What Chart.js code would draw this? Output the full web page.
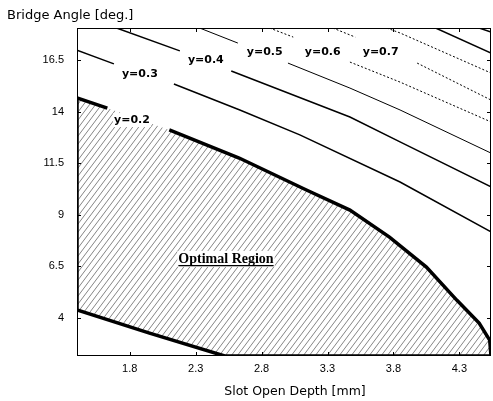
<!DOCTYPE html>
<html>
<head>
<meta charset="utf-8">
<script src="https://cdn.jsdelivr.net/npm/chart.js@4.4.1/dist/chart.umd.min.js"></script>
<style>
  html, body { margin: 0; padding: 0; background: #fff; }
  #wrap { width: 493px; height: 401px; }
</style>
</head>
<body>
<div id="wrap"><canvas id="bridgeChart"></canvas></div>
<script>
const xTicks = [1.8, 2.3, 2.8, 3.3, 3.8, 4.3];
const yTicks = [4, 6.5, 9, 11.5, 14, 16.5];

// contour y=0.2 = upper edge of the optimal region (gap where the label sits)
const c02a = [[1.40, 14.66], [1.63, 14.17]];
const c02b = [[2.10, 13.11], [2.63, 11.75], [3.14, 10.20], [3.47, 9.23], [3.77, 7.92],
              [4.05, 6.47], [4.28, 4.87], [4.45, 3.76], [4.53, 2.93], [4.54, 2.16]];
// left and lower edge of the region
const lowerEdge = [[1.40, 14.66], [1.40, 4.39], [1.95, 3.27], [2.52, 2.16], [4.54, 2.16]];

const c03a = [[1.40, 16.98], [1.68, 16.31]];
const c03b = [[2.135, 15.34], [2.635, 14.08], [3.09, 12.87], [3.85, 10.59], [4.54, 8.17]];
const c04a = [[1.70, 18.05], [2.18, 16.94]];
const c04b = [[2.57, 15.97], [3.47, 13.74], [3.85, 12.53], [4.54, 10.35]];
const c05a = [[2.33, 18.05], [2.62, 17.32]];
const c05b = [[3.00, 16.35], [3.47, 15.14], [3.85, 14.08], [4.54, 11.99]];
const c06a = [[2.86, 18.05], [3.04, 17.61]];
const c06b = [[3.47, 16.40], [3.85, 15.43], [4.54, 13.50]];
const c07a = [[3.34, 18.05], [3.51, 17.61]];
const c07b = [[3.98, 16.35], [4.54, 14.56]];
const c08 = [[3.75, 18.05], [3.85, 17.81], [4.54, 15.87]];
const c09 = [[4.12, 18.05], [4.54, 16.84]];
const c10 = [[4.45, 18.05], [4.54, 17.86]];

const contourLabels = ["y=0.2", "y=0.3", "y=0.4", "y=0.5", "y=0.6", "y=0.7"];
const labelX = [1.817, 1.877, 2.377, 2.824, 3.264, 3.703];
const labelY = [13.59, 15.82, 16.5, 16.89, 16.89, 16.89];
const regionLabel = "Optimal Region";
const regionAt = [2.53, 6.86];
const xTitle = "Slot Open Depth [mm]";
const yTitle = "Bridge Angle [deg.]";

const pts = (arr) => arr.map((p) => ({ x: p[0], y: p[1] }));

function hatch() {
  const c = document.createElement("canvas");
  const w = 6, h = 8;
  c.width = w; c.height = h;
  const g = c.getContext("2d");
  g.strokeStyle = "#858585";
  g.lineWidth = 1;
  g.beginPath();
  for (let k = -1; k <= 1; k++) {
    g.moveTo(-w + k * w, 2 * h);
    g.lineTo(2 * w + k * w, -h);
  }
  g.stroke();
  return g.createPattern(c, "repeat");
}

const sans = "'Liberation Sans', Arial, sans-serif";
const wide = "'DejaVu Sans', Verdana, sans-serif";

function line(data, width, dash) {
  return {
    data: pts(data),
    showLine: true,
    borderColor: "#000",
    borderWidth: width,
    borderDash: dash || [],
    pointRadius: 0,
    tension: 0,
    fill: false,
  };
}

const datasets = [
  line(c02a, 3.5),
  line(c02b, 3.5),
  line(lowerEdge, 3.5),
  line(c03a, 1.5),
  line(c03b, 1.5),
  line(c04a, 1.5),
  line(c04b, 1.5),
  line(c05a, 1),
  line(c05b, 1),
  line(c06a, 1, [2, 2]),
  line(c06b, 1, [2, 2]),
  line(c07a, 1, [2, 2]),
  line(c07b, 1, [2, 2]),
  line(c08, 1, [2, 2]),
  line(c09, 1.5),
  line(c10, 1.5),
  {
    data: pts(c02a.concat(c02b, lowerEdge.slice().reverse())),
    showLine: true,
    borderWidth: 0,
    borderColor: "rgba(0,0,0,0)",
    pointRadius: 0,
    fill: "shape",
    backgroundColor: hatch(),
  },
];

const frame = {
  id: "frame",
  afterDatasetsDraw(chart) {
    const { ctx, chartArea: a, scales } = chart;
    const sx = scales.x, sy = scales.y;
    ctx.save();
    ctx.strokeStyle = "#000";
    ctx.lineWidth = 1;
    ctx.strokeRect(a.left + 0.5, a.top + 0.5, a.width - 1, a.height - 1);
    ctx.beginPath();
    xTicks.forEach((v) => {
      const p = Math.round(sx.getPixelForValue(v)) + 0.5;
      ctx.moveTo(p, a.bottom); ctx.lineTo(p, a.bottom - 4);
      ctx.moveTo(p, a.top); ctx.lineTo(p, a.top + 4);
    });
    yTicks.forEach((v) => {
      const p = Math.round(sy.getPixelForValue(v)) + 0.5;
      ctx.moveTo(a.left, p); ctx.lineTo(a.left + 4, p);
      ctx.moveTo(a.right, p); ctx.lineTo(a.right - 4, p);
    });
    ctx.stroke();

    ctx.font = "bold 11px 'DejaVu Sans', sans-serif";
    ctx.textAlign = "center";
    ctx.textBaseline = "middle";
    contourLabels.forEach((t, i) => {
      const px = sx.getPixelForValue(labelX[i]);
      const py = sy.getPixelForValue(labelY[i]);
      const w = ctx.measureText(t).width;
      ctx.fillStyle = "#fff";
      ctx.fillRect(px - w / 2 - 1, py - 7, w + 2, 14);
      ctx.fillStyle = "#000";
      ctx.fillText(t, px, py);
    });

    ctx.font = "bold 14px 'Liberation Serif', serif";
    const rx = sx.getPixelForValue(regionAt[0]);
    const ry = sy.getPixelForValue(regionAt[1]);
    const rw = ctx.measureText(regionLabel).width;
    ctx.fillStyle = "#fff";
    ctx.fillRect(rx - rw / 2 - 1, ry - 8, rw + 2, 16);
    ctx.fillStyle = "#000";
    ctx.fillText(regionLabel, rx, ry);
    ctx.fillRect(rx - rw / 2, ry + 6, rw, 1.3);

    // x axis title, sits a little right of the plot centre like the original
    ctx.font = "12.5px " + wide;
    ctx.fillText(xTitle, (a.left + a.right) / 2 + 11, a.bottom + 36);
    ctx.restore();
  },
};

new Chart(document.getElementById("bridgeChart"), {
  type: "scatter",
  data: { datasets },
  options: {
    responsive: true,
    maintainAspectRatio: false,
    animation: false,
    layout: { padding: { left: 7, right: 2, top: 0, bottom: 0 } },
    plugins: {
      legend: { display: false },
      tooltip: { enabled: false },
      title: {
        display: true,
        text: yTitle,
        align: "start",
        color: "#000",
        font: { family: wide, size: 13, weight: "normal" },
        padding: { top: 8, bottom: 4.4 },
      },
    },
    scales: {
      x: {
        type: "linear",
        min: 1.4,
        max: 4.54,
        afterBuildTicks: (s) => { s.ticks = xTicks.map((v) => ({ value: v })); },
        afterFit: (s) => { s.height = 45; },
        grid: { display: false, drawTicks: false },
        border: { display: false },
        ticks: { padding: 6, color: "#000", font: { family: sans, size: 11 }, callback: (v) => String(v) },
      },
      y: {
        type: "linear",
        min: 2.16,
        max: 18.05,
        afterBuildTicks: (s) => { s.ticks = yTicks.map((v) => ({ value: v })); },
        afterFit: (s) => { s.width = 70; },
        grid: { display: false, drawTicks: false },
        border: { display: false },
        ticks: { padding: 13, color: "#000", font: { family: sans, size: 11 }, callback: (v) => String(v) },
      },
    },
  },
  plugins: [frame],
});
</script>
</body>
</html>
